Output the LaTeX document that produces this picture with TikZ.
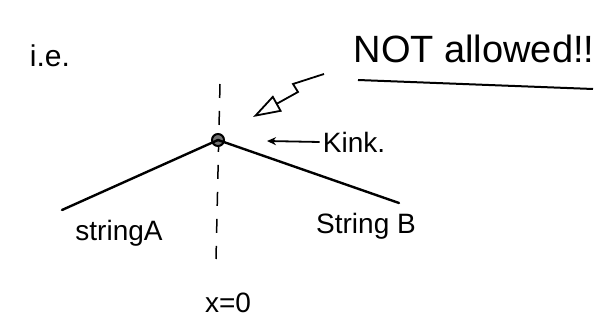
\documentclass[tikz,border=0pt]{standalone}
\usepackage{fontspec}
\setmainfont{Liberation Sans}
\usetikzlibrary{arrows.meta}
\begin{document}
\begin{tikzpicture}[x=1pt,y=-1pt,
  hand/.style={font=\fontsize{28}{30}\selectfont, inner sep=0pt},
  stringline/.style={line width=2.4pt, line cap=round},
  axisline/.style={line width=1.5pt, dash pattern=on 14pt off 13pt},
  pointer/.style={line width=1.8pt, -{Triangle[open, length=28pt, width=18pt, line width=1.8pt]}},
  smallpointer/.style={line width=1.8pt, -{Stealth[length=9pt, width=8pt]}}]
\useasboundingbox (0,0) rectangle (608,328);
% axis
\coordinate (axtop) at (220,84);
\coordinate (axbot) at (216,259);
\draw[axisline] (axtop) -- (axbot);
% kink
\node[circle, draw, fill=black!55, line width=2pt, minimum size=12pt, inner sep=0pt] (kink) at (218,140) {};
\coordinate (aend) at (62,210);
\coordinate (bend) at (399,203);
\draw[stringline] (aend) -- (kink.center);
\draw[stringline] (kink.center) -- (bend);
% texts
\node[hand, font=\fontsize{30}{32}\selectfont] (ie) at (50,56) {i.e.};
\node[hand, font=\fontsize{38}{40}\selectfont] (notallowed) at (474,49) {NOT allowed!!};
\coordinate (ul1) at (358,80);
\coordinate (ul2) at (593,89);
\draw[line width=2pt] (ul1) -- (ul2);
\node[hand] (kinklabel) at (354,142) {Kink.};
\node[hand] (sa) at (119,233) {stringA};
\node[hand] (sb) at (366,226) {String B};
\node[hand] (x0) at (228,303) {x=0};
% pointers
\coordinate (z1) at (324,74);
\coordinate (z2) at (293,84);
\coordinate (z3) at (298,92);
\coordinate (ztip) at (253,117);
\draw[pointer] (z1) -- (z2) -- (z3) -- (ztip);
\draw[smallpointer] (kinklabel.west) ++(-3,0) -- (267,141);
\end{tikzpicture}
\end{document}
